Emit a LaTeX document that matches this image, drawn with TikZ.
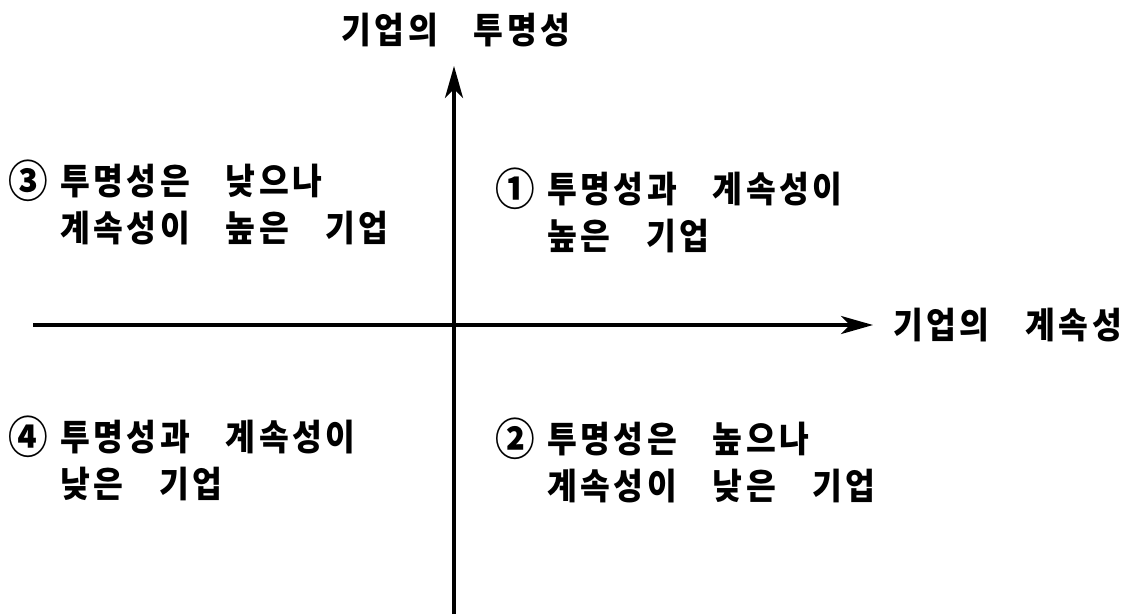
\documentclass[tikz,border=0pt]{standalone}
\usepackage{fontspec}
\setmainfont{Noto Sans CJK KR}[FakeStretch=0.9]
\usetikzlibrary{arrows.meta}
% tracking: a kern between the syllables of one word
\newcommand{\trk}{3.5pt}
\makeatletter
\newcommand{\tr}[1]{\tr@#1\@nil}
\def\tr@#1#2\@nil{#1\if\relax\detokenize{#2}\relax\else\kern\trk\relax\tr@#2\@nil\fi}
\makeatother
\newcommand{\qnum}[1]{\makebox[52pt][l]{\raisebox{-3pt}{\fontsize{44}{47}\selectfont #1}}}
\newcommand{\qfont}{\bfseries\fontsize{36}{47}\selectfont\spaceskip=36pt\relax}

\begin{document}
\begin{tikzpicture}[x=1pt,y=-1pt,>={Stealth[length=32pt,width=18pt,inset=9pt]},
  axis/.style={line width=4pt,->},
  quad/.style={draw=none,inner sep=0pt,anchor=west,align=left,font=\qfont},
  axislabel/.style={draw=none,inner sep=0pt,font=\qfont}]
\useasboundingbox (0,0) rectangle (1141,614);
%%
\coordinate (y_bot) at (454,614);
\coordinate (y_top) at (454,66);
\coordinate (x_left) at (33,325);
\coordinate (x_right) at (873,325);
\node (label_y) at (456,30) [axislabel] {\tr{기업의} \tr{투명성}};
\node (label_x) at (893,325) [axislabel,anchor=west] {\tr{기업의} \tr{계속성}};
\node (quad_3) at (8,202) [quad] {\qnum{③}\tr{투명성은} \tr{낮으나}\\\hspace*{52pt}\tr{계속성이} \tr{높은} \tr{기업}};
\node (quad_1) at (495,210) [quad] {\qnum{①}\tr{투명성과} \tr{계속성이}\\\hspace*{52pt}\tr{높은} \tr{기업}};
\node (quad_4) at (8,458) [quad] {\qnum{④}\tr{투명성과} \tr{계속성이}\\\hspace*{52pt}\tr{낮은} \tr{기업}};
\node (quad_2) at (495,460) [quad] {\qnum{②}\tr{투명성은} \tr{높으나}\\\hspace*{52pt}\tr{계속성이} \tr{낮은} \tr{기업}};
\draw [axis] (y_bot) -- (y_top);
\draw [axis] (x_left) -- (x_right);
%
\end{tikzpicture}
\end{document}
